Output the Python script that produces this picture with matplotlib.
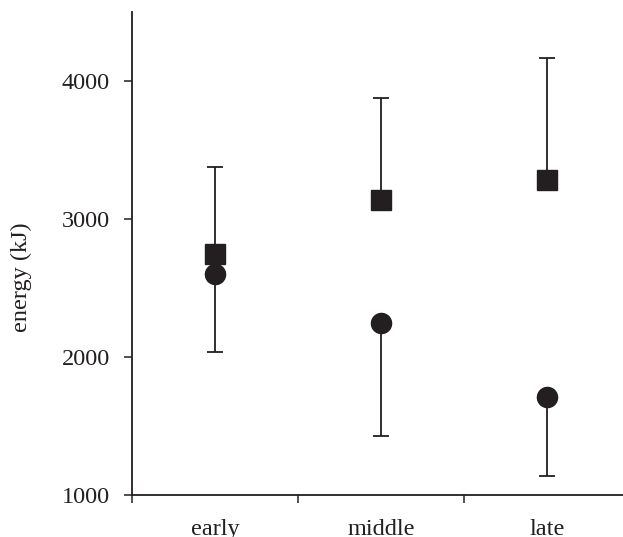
import numpy as np
import matplotlib.pyplot as plt

# energy per period; squares have upper error, circles lower error
periods = ["early", "middle", "late"]
square_mean = [2745, 3140, 3280]
square_upper = [3380, 3875, 4168]
circle_mean = [2605, 2246, 1707]
circle_lower = [2036, 1430, 1140]

ink = "#231f20"
plt.rcParams["font.family"] = ["Liberation Serif", "DejaVu Serif"]

fig = plt.figure(figsize=(6.23, 5.37), dpi=100)
ax = fig.add_axes([132 / 623, 42 / 537, 1 - 132 / 623, 483 / 537])

xpos = np.arange(len(periods)) + 0.5
sq = np.array(square_mean)
ci = np.array(circle_mean)

ax.errorbar(xpos, ci, yerr=[ci - np.array(circle_lower), np.zeros(3)],
            fmt="none", ecolor=ink, elinewidth=1.3, capsize=6, capthick=1.3)
ax.errorbar(xpos, sq, yerr=[np.zeros(3), np.array(square_upper) - sq],
            fmt="none", ecolor=ink, elinewidth=1.3, capsize=6, capthick=1.3)
ax.plot(xpos, ci, "o", color=ink, markersize=14.5, zorder=3)
ax.plot(xpos, sq, "s", color=ink, markersize=14.5, zorder=4)

ax.set_ylim(1000, 4500)
ax.set_xlim(0, (623 - 132) / 166)
ax.set_yticks([1000, 2000, 3000, 4000])
ax.set_xticks([0, 1, 2])
ax.set_xticks(xpos, minor=True)
ax.set_xticklabels([])
ax.set_xticklabels(periods, minor=True)
ax.tick_params(axis="x", which="minor", length=0, pad=17)
ax.tick_params(axis="both", which="major", direction="out", length=6,
               width=1.1, color=ink, labelsize=17.5, labelcolor=ink)
ax.tick_params(axis="x", which="minor", labelsize=17.5, labelcolor=ink)
ax.tick_params(axis="y", pad=10)

for side in ["top", "right"]:
    ax.spines[side].set_visible(False)
for side in ["left", "bottom"]:
    ax.spines[side].set_color(ink)
    ax.spines[side].set_linewidth(1.3)

ax.set_ylabel("energy (kJ)", fontsize=17.5, color=ink)
ax.yaxis.set_label_coords(-0.203, 0.45)

fig.savefig("out.png", dpi=100)
